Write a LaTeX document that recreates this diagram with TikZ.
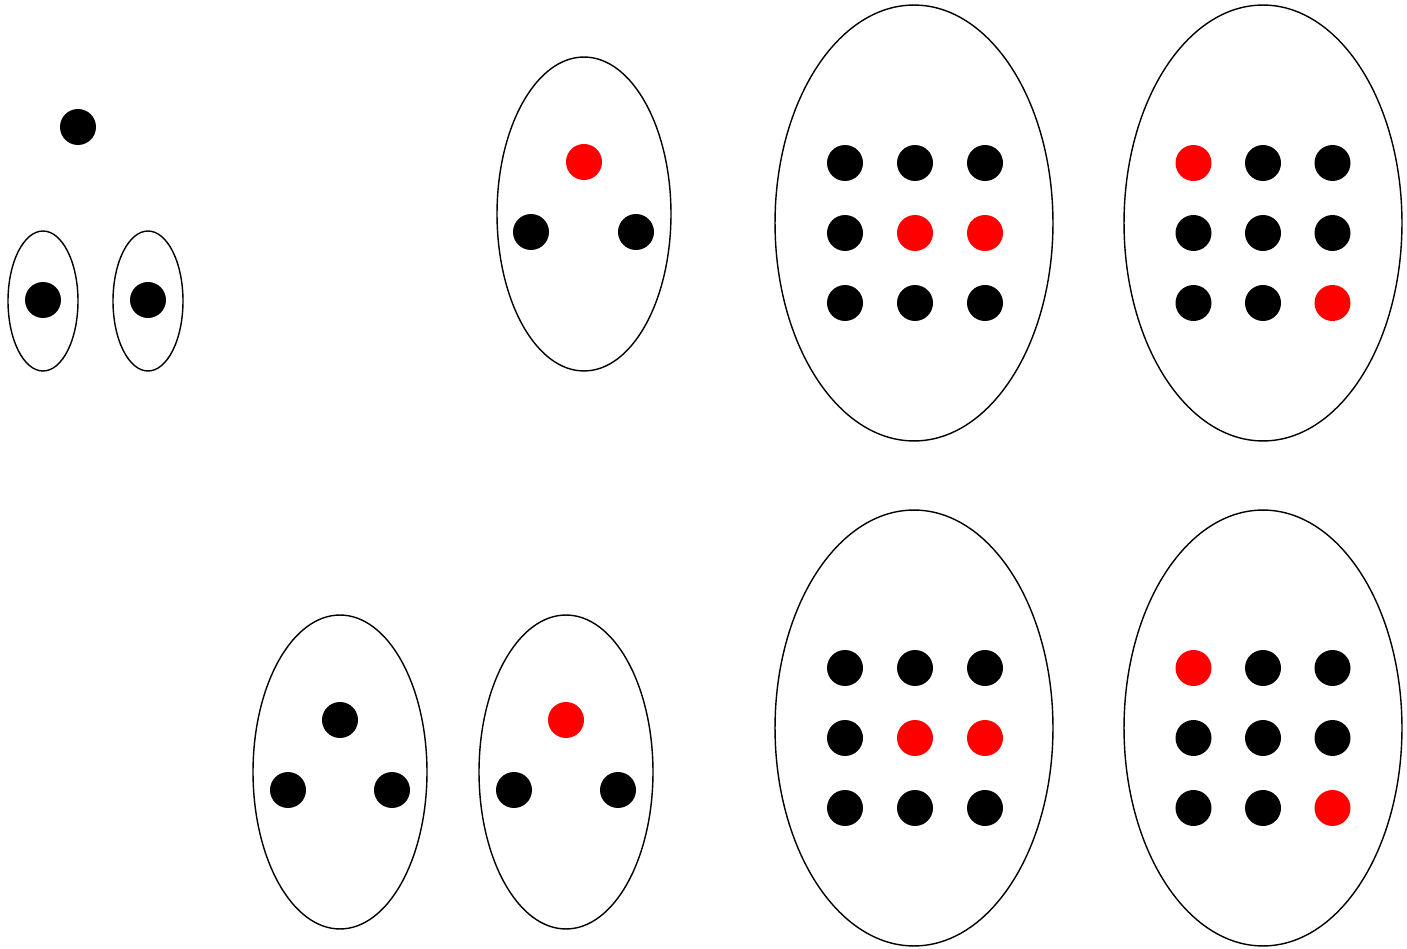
\documentclass[tikz,border=0pt]{standalone}
\usetikzlibrary{shapes.geometric}
\begin{document}
\begin{tikzpicture}[x=0.02cm,y=-0.02cm,
  dot/.style={circle,fill=black,inner sep=0pt,minimum size=0.72cm},
  reddot/.style={dot,fill=red},
  blob/.style={ellipse,draw,line width=0.8pt,inner sep=0pt},
  small/.style={blob,minimum width=1.4cm,minimum height=2.8cm},
  mid/.style={blob,minimum width=3.48cm,minimum height=6.28cm},
  big/.style={blob,minimum width=5.56cm,minimum height=8.72cm}]
\useasboundingbox (0,0) rectangle (1407,949);

% top left
\node[dot] (a0) at (78,127) {};
\node[small] (e1) at (43,301) {};
\node[small] (e2) at (148,301) {};
\node[dot] (a1) at (43,300) {};
\node[dot] (a2) at (148,300) {};

% top triangle
\node[mid] (e3) at (584,214) {};
\node[reddot] (b0) at (584,162) {};
\node[dot] (b1) at (531,232) {};
\node[dot] (b2) at (636,232) {};

% bottom triangles
\node[mid] (e4) at (340,772) {};
\node[dot] (c0) at (340,720) {};
\node[dot] (c1) at (288,790) {};
\node[dot] (c2) at (392,790) {};

\node[mid] (e5) at (566,772) {};
\node[reddot] (d0) at (566,720) {};
\node[dot] (d1) at (514,790) {};
\node[dot] (d2) at (618,790) {};

% grids
\node[big] (e6) at (914,223) {};
\node[big] (e7) at (1263,223) {};
\node[big] (e8) at (914,728) {};
\node[big] (e9) at (1263,728) {};
\foreach \i/\j/\s in {1/1/dot,2/1/dot,3/1/dot,1/2/dot,2/2/reddot,3/2/reddot,1/3/dot,2/3/dot,3/3/dot}{
  \node[\s] (g-\i-\j) at (775+70*\i,93+70*\j) {};
  \node[\s] (h-\i-\j) at (775+70*\i,598+70*\j) {};
}
\foreach \i/\j/\s in {1/1/reddot,2/1/dot,3/1/dot,1/2/dot,2/2/dot,3/2/dot,1/3/dot,2/3/dot,3/3/reddot}{
  \node[\s] (k-\i-\j) at (1124+69.5*\i,93+70*\j) {};
  \node[\s] (m-\i-\j) at (1124+69.5*\i,598+70*\j) {};
}
\end{tikzpicture}
\end{document}
